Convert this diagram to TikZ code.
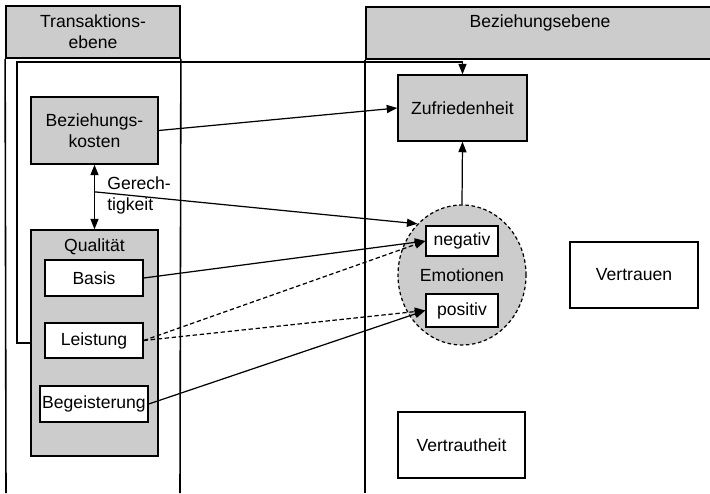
\documentclass[tikz,border=0pt]{standalone}
\usepackage{fontspec}
\setmainfont{Liberation Sans}
\usetikzlibrary{calc, positioning}
\usetikzlibrary{arrows.meta}
\usetikzlibrary{shapes.geometric}

\begin{document}
\begin{tikzpicture}[font=\fontsize{10}{12}\selectfont,
  box/.style={draw, line width=0.8pt, inner sep=0pt, align=center},
  graybox/.style={box, fill=gray!40},
  whitebox/.style={box, fill=white},
  arr/.style={-{Triangle[length=6pt,width=4.6pt]}, line width=0.7pt},
  dasharr/.style={arr, dash pattern=on 2.5pt off 1.5pt}]
\useasboundingbox (0,0) rectangle (14.2,9.86);
% headers and columns
\node[graybox, line width=1pt, minimum width=3.48cm, minimum height=1.04cm] (thead) at (1.86,9.22) {Transaktions-\\ebene};
\node[graybox, line width=1pt, anchor=north west, minimum width=7.1cm, minimum height=1.04cm] (bhead) at (7.3,9.74) {};
\node (btext) at (10.8,9.4) {Beziehungsebene};
\draw[line width=0.9pt] (thead.south west) -- (0.12,0);
\draw[line width=0.9pt] (thead.south east) -- (3.6,0);
\draw[line width=0.9pt] (bhead.south west) -- (7.3,0);
% Transaktionsebene
\node[graybox, minimum width=2.54cm, minimum height=1.34cm] (kosten) at (1.89,7.25) {Beziehungs-\\kosten};
\node[graybox, minimum width=2.54cm, minimum height=4.52cm] (qual) at (1.89,3.0) {};
\node (qlabel) at (1.89,4.93) {Qualität};
\node[whitebox, minimum width=1.96cm, minimum height=0.72cm] (basis) at (1.88,4.3) {Basis};
\node[whitebox, minimum width=1.96cm, minimum height=0.7cm] (leistung) at (1.88,3.05) {Leistung};
\node[whitebox, minimum width=2.16cm, minimum height=0.72cm] (begeist) at (1.88,1.78) {Begeisterung};
% Beziehungsebene
\node[graybox, minimum width=2.58cm, minimum height=1.32cm] (zufried) at (9.25,7.7) {Zufriedenheit};
\node[ellipse, draw, dash pattern=on 2pt off 1.5pt, line width=0.7pt, fill=gray!40, minimum width=2.56cm, minimum height=2.8cm, inner sep=0pt] (emo) at (9.24,4.36) {Emotionen};
\node[whitebox, minimum width=1.44cm, minimum height=0.6cm] (negativ) at (9.24,5.04) {negativ};
\node[whitebox, minimum width=1.44cm, minimum height=0.66cm] (positiv) at (9.24,3.65) {positiv};
\node[box, minimum width=2.56cm, minimum height=1.32cm] (vertrauen) at (12.68,4.36) {Vertrauen};
\node[box, minimum width=2.54cm, minimum height=1.32cm] (vertraut) at (9.23,0.96) {Vertrautheit};
% connectors
\coordinate (fbturn) at (0.34,8.62);
\draw[arr] (qual.west) -| (fbturn) -| (zufried.north);
\draw[arr, {Triangle[length=6pt,width=4.6pt]}-{Triangle[length=6pt,width=4.6pt]}] (kosten.south) -- (qual.north);
\coordinate (gerecht) at ($(kosten.south)!0.42!(qual.north)$);
\node[anchor=west, align=left, inner sep=0pt] (gerlabel) at (2.14,5.96) {Gerech-\\tigkeit};
\draw[arr] (gerecht) -- (emo.131);
\draw[arr] (kosten.east) -- (zufried.west);
\draw[arr] (emo.north) -- (zufried.south);
\draw[arr] (basis.east) -- (negativ.west);
\draw[dasharr] (leistung.east) -- (negativ.west);
\draw[dasharr] (leistung.east) -- (positiv.west);
\draw[arr] (begeist.east) -- (positiv.west);
\end{tikzpicture}
\end{document}
